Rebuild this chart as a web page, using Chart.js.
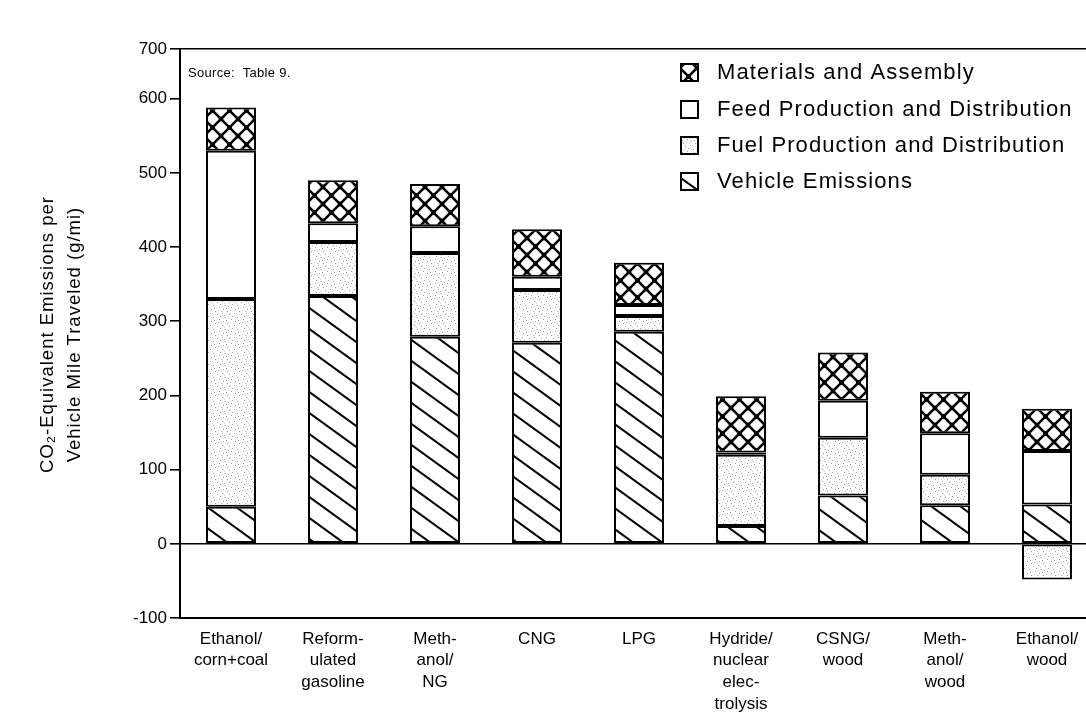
<!DOCTYPE html>
<html>
<head>
<meta charset="utf-8">
<script src="https://cdn.jsdelivr.net/npm/chart.js@4.4.1/dist/chart.umd.min.js"></script>
<style>
  html, body { margin: 0; padding: 0; background: #fff; overflow: hidden; }
  #wrap { width: 1086px; height: 724px; overflow: hidden; }
</style>
</head>
<body>
<div id="wrap"><canvas id="myChart" width="1100" height="724"></canvas></div>
<script>
// categorie (etichette su piu righe)
const categories = [
  ['Ethanol/', 'corn+coal'],
  ['Reform-', 'ulated', 'gasoline'],
  ['Meth-', 'anol/', 'NG'],
  'CNG',
  'LPG',
  ['Hydride/', 'nuclear', 'elec-', 'trolysis'],
  ['CSNG/', 'wood'],
  ['Meth-', 'anol/', 'wood'],
  ['Ethanol/', 'wood']
]

// valori (g/mi)
const vehicleEmissions = [50, 334, 279, 271, 286, 24, 65, 52, 53]
const fuelProduction = [280, 73, 113, 71, 21, 96, 78, 41, -48]
const feedProduction = [200, 25, 36, 18, 15, 3, 50, 56, 72]
const materialsAssembly = [58, 58, 57, 64, 57, 76, 65, 56, 57]

const seriesNames = [
  'Vehicle Emissions',
  'Fuel Production and Distribution',
  'Feed Production and Distribution',
  'Materials and Assembly'
]

// tacche asse y: l'ultima (in alto) e' compressa nel grafico originale
const yTickValues = [-100, 0, 100, 200, 300, 400, 500, 600, 667]
const yTickLabels = ['-100', '0', '100', '200', '300', '400', '500', '600', '700']
const yMin = -100
const yTop = 667

const yTitleLines = ['CO\u2082-Equivalent Emissions per', 'Vehicle Mile Traveled (g/mi)']

const FONT = '"Liberation Sans", Arial, Helvetica, sans-serif'

// ---- pattern ----
function makeTile(w, h, draw) {
  const c = document.createElement('canvas')
  c.width = w
  c.height = h
  const g = c.getContext('2d')
  g.fillStyle = '#fff'
  g.fillRect(0, 0, w, h)
  draw(g, w, h)
  return document.createElement('canvas').getContext('2d').createPattern(c, 'repeat')
}

// linee diagonali "\"
const hatchPattern = makeTile(29, 21, function (g, w, h) {
  g.strokeStyle = '#000'
  g.lineWidth = 2
  for (let k = -1; k <= 1; k++) {
    g.beginPath()
    g.moveTo(-w, -h + k * h)
    g.lineTo(2 * w, 2 * h + k * h)
    g.stroke()
  }
})

// puntinato leggero
const dotPattern = makeTile(12, 12, function (g) {
  g.fillStyle = '#9a9a9a'
  const pts = [[1, 2], [6, 1], [9, 5], [3, 7], [7, 9], [11, 11], [4, 4], [10, 8]]
  pts.forEach(p => g.fillRect(p[0], p[1], 1, 1))
  g.fillStyle = '#cfcfcf'
  const pts2 = [[2, 10], [8, 3], [0, 6], [5, 11]]
  pts2.forEach(p => g.fillRect(p[0], p[1], 1, 1))
})

// reticolo incrociato
const crossPattern = makeTile(17, 17, function (g, w, h) {
  g.strokeStyle = '#000'
  g.lineWidth = 2.6
  g.beginPath()
  g.moveTo(0, 0); g.lineTo(w, h)
  g.moveTo(w, 0); g.lineTo(0, h)
  g.stroke()
  g.fillStyle = '#000'
  ;[[0, 0], [w, 0], [0, h], [w, h], [w / 2, h / 2]].forEach(p => {
    g.beginPath()
    g.arc(p[0], p[1], 2.4, 0, Math.PI * 2)
    g.fill()
  })
})

const fills = [hatchPattern, dotPattern, '#ffffff', crossPattern]
const seriesData = [vehicleEmissions, fuelProduction, feedProduction, materialsAssembly]

// legenda, nota "Source" e titolo asse y disegnati a mano
const insideLegend = {
  id: 'insideLegend',
  afterDraw(chart) {
    const { ctx, chartArea } = chart
    ctx.save()
    ctx.fillStyle = '#000'
    ctx.textBaseline = 'middle'
    ctx.font = '13px ' + FONT
    ctx.letterSpacing = '0.3px'
    ctx.fillText('Source:  Table 9.', chartArea.left + 8, 73)

    // titolo asse y su due righe
    ctx.save()
    ctx.translate(0, (chartArea.top + chartArea.bottom) / 2 + 1)
    ctx.rotate(-Math.PI / 2)
    ctx.textAlign = 'center'
    ctx.font = '18.5px ' + FONT
    ctx.letterSpacing = '1px'
    ctx.fillText(yTitleLines[0], 0, 48)
    ctx.fillText(yTitleLines[1], 0, 75)
    ctx.restore()

    const rows = [72, 109, 145, 181]
    const order = [3, 2, 1, 0]
    ctx.font = '22px ' + FONT
    ctx.letterSpacing = '1.1px'
    order.forEach((dsIndex, i) => {
      const ds = chart.data.datasets[dsIndex]
      const y = rows[i]
      ctx.fillStyle = ds.backgroundColor
      ctx.fillRect(681, y - 8, 17, 17)
      ctx.strokeStyle = '#000'
      ctx.lineWidth = 2
      ctx.strokeRect(681, y - 8, 17, 17)
      ctx.fillStyle = '#000'
      ctx.fillText(ds.label, 717, y + 1)
    })
    ctx.restore()
  }
}

const ctx = document.getElementById('myChart')

new Chart(ctx, {
  type: 'bar',
  plugins: [insideLegend],
  data: {
    labels: categories,
    datasets: seriesNames.map((name, i) => ({
      label: name,
      data: seriesData[i],
      backgroundColor: fills[i],
      borderColor: '#000',
      borderWidth: 2,
      borderSkipped: false,
      barPercentage: 0.49,
      categoryPercentage: 1
    }))
  },
  options: {
    responsive: false,
    animation: false,
    layout: { padding: { top: 49, right: 2, left: 0, bottom: 0 } },
    plugins: {
      legend: { display: false },
      tooltip: { enabled: false }
    },
    scales: {
      x: {
        stacked: true,
        grid: { display: false },
        border: { display: true, color: '#000', width: 2 },
        ticks: {
          color: '#000',
          font: { family: FONT, size: 17, lineHeight: 1.28 },
          padding: 2,
          maxRotation: 0,
          autoSkip: false
        },
        afterFit(scale) { scale.height = 106 }
      },
      y: {
        stacked: true,
        min: yMin,
        max: yTop,
        afterBuildTicks(scale) {
          scale.ticks = yTickValues.map(v => ({ value: v }))
        },
        afterFit(scale) { scale.width = 180 },
        grid: {
          color: c => (c.tick && (c.tick.value === 0 || c.tick.value === yTop)) ? '#000' : 'rgba(0,0,0,0)',
          tickColor: '#000',
          lineWidth: 1.6,
          tickLength: 10
        },
        border: { display: true, color: '#000', width: 2 },
        ticks: {
          color: '#000',
          font: { family: FONT, size: 17 },
          padding: 3,
          callback: function (value) {
            const i = yTickValues.indexOf(value)
            return i >= 0 ? yTickLabels[i] : ''
          }
        },
        title: { display: false }
      }
    }
  }
})
</script>
</body>
</html>
